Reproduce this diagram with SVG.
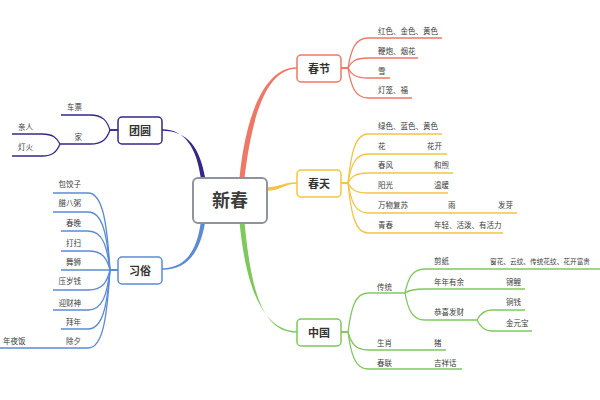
<svg xmlns="http://www.w3.org/2000/svg" width="600" height="400" viewBox="0 0 600 400">
<style>
text{font-family:"Noto Sans CJK SC","Noto Sans",sans-serif;fill:#3c3c3c}
.t{font-size:7.5px}
.n{font-size:11px;font-weight:bold;text-anchor:middle;fill:#333}
.box{fill:#fff;stroke-width:1.5}
.l{fill:none;stroke-width:1.3}
.red{stroke:#ef7766}.yel{stroke:#f5c445}.grn{stroke:#7fc95c}.pur{stroke:#33288a}.blu{stroke:#5b8ad6}
</style>
<rect width="600" height="400" fill="#fff"/>
<g id="connectors">
  <path fill="#ef7766" d="M239.5,178 C245,122 262,67.2 297,67.2 L297,68.8 C264,68.8 251,124 244.5,178 Z"/>
  <path fill="#f5c445" d="M267,187.2 C280,187 283,182.3 297,182.3 L297,183.7 C284,183.7 281,190.8 267,190.8 Z"/>
  <path fill="#7fc95c" d="M239.5,222 C246,290 264,331.2 297,331.2 L297,332.8 C262,332.8 251,290 244.5,222 Z"/>
  <path fill="#33288a" d="M162,129.2 C186,129.2 197,150 200.8,178 L205.2,178 C200,148 188,130.8 162,130.8 Z"/>
  <path fill="#5b8ad6" d="M200.8,222 C197,250 186,268.2 162,268.2 L162,269.8 C188,269.8 200,252 205.2,222 Z"/>
  <g class="l red">
    <path d="M341,68 H348 C351,50 355,38 368,38 H442"/>
    <path d="M341,68 H348 C351,62 355,58 368,58 H418"/>
    <path d="M341,68 H348 C351,74 355,78 368,78 H390"/>
    <path d="M341,68 H348 C351,86 355,98 368,98 H412"/>
  </g>
  <g class="l yel">
    <path d="M341,183 H348 C351,153.6 355,134 368,134 H442"/>
    <path d="M341,183 H348 C351,165.6 355,154 368,154 H447"/>
    <path d="M341,183 H348 C351,177 355,173 368,173 H453"/>
    <path d="M341,183 H348 C351,189 355,193 368,193 H448"/>
    <path d="M341,183 H348 C351,201 355,213 368,213 H517"/>
    <path d="M341,183 H348 C351,213 355,233 368,233 H503"/>
  </g>
  <g class="l grn">
    <path d="M341,332 H348 C351,308.6 355,293 368,293 H405"/>
    <path d="M341,332 H348 C351,342.8 355,350 368,350 H446"/>
    <path d="M341,332 H348 C351,354.2 355,369 368,369 H462"/>
    <path d="M405,293 C408,278.6 412,269 425,269 H600"/>
    <path d="M405,293 C408,290.6 412,289 425,289 H525"/>
    <path d="M405,293 C408,309.2 412,320 425,320 H477"/>
    <path d="M477,320 C480,314 484,310 492,310 H525"/>
    <path d="M477,320 C480,326.6 484,331 492,331 H532"/>
  </g>
  <g class="l pur">
    <path d="M118,130 H110 C107,121 103,115 90,115 H61"/>
    <path d="M118,130 H110 C107,138.4 103,144 90,144 H60"/>
    <path d="M60,144 C57,138 53,134 42,134 H12"/>
    <path d="M60,144 C57,151.2 53,156 42,156 H12"/>
  </g>
  <g class="l blu">
    <path d="M118,270 H110 C107,223.8 103,193 88,193 H53"/>
    <path d="M118,270 H110 C107,235.2 103,212 88,212 H53"/>
    <path d="M118,270 H110 C107,246.6 103,231 88,231 H61"/>
    <path d="M118,270 H110 C107,258.6 103,251 88,251 H61"/>
    <path d="M118,270 H61"/>
    <path d="M118,270 H110 C107,282 103,290 88,290 H53"/>
    <path d="M118,270 H110 C107,294 103,310 88,310 H53"/>
    <path d="M118,270 H110 C107,305.4 103,329 88,329 H61"/>
    <path d="M118,270 H110 C107,316.8 103,348 88,348 H0"/>
  </g>
</g>

<g id="center">
  <rect x="193" y="178" width="74" height="45" rx="5" fill="#fff" stroke="#8e939c" stroke-width="2"/>
  <text x="230" y="207" style="font-size:18px;font-weight:bold;text-anchor:middle;fill:#3d3d3d">新春</text>
</g>

<g id="chunjie">
  <rect class="box red" x="297" y="55" width="44" height="27" rx="4"/>
  <text class="n" x="319" y="72.5">春节</text>
  <text class="t" x="378" y="33.7">红色、金色、黄色</text>
  <text class="t" x="378" y="53.7">鞭炮、烟花</text>
  <text class="t" x="378" y="73.7">雪</text>
  <text class="t" x="378" y="92.7">灯笼、福</text>
</g>

<g id="chuntian">
  <rect class="box yel" x="297" y="170" width="44" height="27" rx="4"/>
  <text class="n" x="319" y="187.5">春天</text>
  <text class="t" x="378" y="128.7">绿色、蓝色、黄色</text>
  <text class="t" x="378" y="148.7">花</text>
  <text class="t" x="427" y="148.7">花开</text>
  <text class="t" x="378" y="167.7">春风</text>
  <text class="t" x="434" y="167.7">和煦</text>
  <text class="t" x="378" y="187.7">阳光</text>
  <text class="t" x="434" y="187.7">温暖</text>
  <text class="t" x="378" y="207.7">万物复苏</text>
  <text class="t" x="448" y="207.7">雨</text>
  <text class="t" x="498" y="207.7">发芽</text>
  <text class="t" x="378" y="227.7">青春</text>
  <text class="t" x="434" y="227.7">年轻、活泼、有活力</text>
</g>

<g id="zhongguo">
  <rect class="box grn" x="297" y="319" width="44" height="27" rx="4"/>
  <text class="n" x="319" y="336.5">中国</text>
  <text class="t" x="377" y="289.7">传统</text>
  <text class="t" x="434" y="263.7">剪纸</text>
  <text x="490" y="263.5" style="font-size:7px" textLength="100" lengthAdjust="spacingAndGlyphs">窗花、云纹、传统花纹、花开富贵</text>
  <text class="t" x="434" y="284.7">年年有余</text>
  <text class="t" x="506" y="284.7">锦鲤</text>
  <text class="t" x="434" y="314.7">恭喜发财</text>
  <text class="t" x="506" y="304.7">铜钱</text>
  <text class="t" x="506" y="325.7">金元宝</text>
  <text class="t" x="377" y="345.7">生肖</text>
  <text class="t" x="434" y="345.7">猪</text>
  <text class="t" x="377" y="365.7">春联</text>
  <text class="t" x="434" y="365.7">吉祥话</text>
</g>

<g id="tuanyuan">
  <rect class="box pur" x="118" y="117" width="44" height="27" rx="4"/>
  <text class="n" x="140" y="134.5">团圆</text>
  <text class="t" x="82" y="109.7" text-anchor="end">车票</text>
  <text class="t" x="82" y="139.7" text-anchor="end">家</text>
  <text class="t" x="18" y="129.7">亲人</text>
  <text class="t" x="18" y="149.7">灯火</text>
</g>

<g id="xisu">
  <rect class="box blu" x="118" y="257" width="44" height="27" rx="4"/>
  <text class="n" x="140" y="274.5">习俗</text>
  <g text-anchor="end">
    <text class="t" x="81" y="186.7">包饺子</text>
    <text class="t" x="81" y="205.7">腊八粥</text>
    <text class="t" x="81" y="225.7">春晚</text>
    <text class="t" x="81" y="245.7">打扫</text>
    <text class="t" x="81" y="264.7">舞狮</text>
    <text class="t" x="81" y="283.7">压岁钱</text>
    <text class="t" x="81" y="305.7">迎财神</text>
    <text class="t" x="81" y="324.7">拜年</text>
    <text class="t" x="81" y="343.7">除夕</text>
  </g>
  <text class="t" x="3" y="343.7">年夜饭</text>
</g>
</svg>
